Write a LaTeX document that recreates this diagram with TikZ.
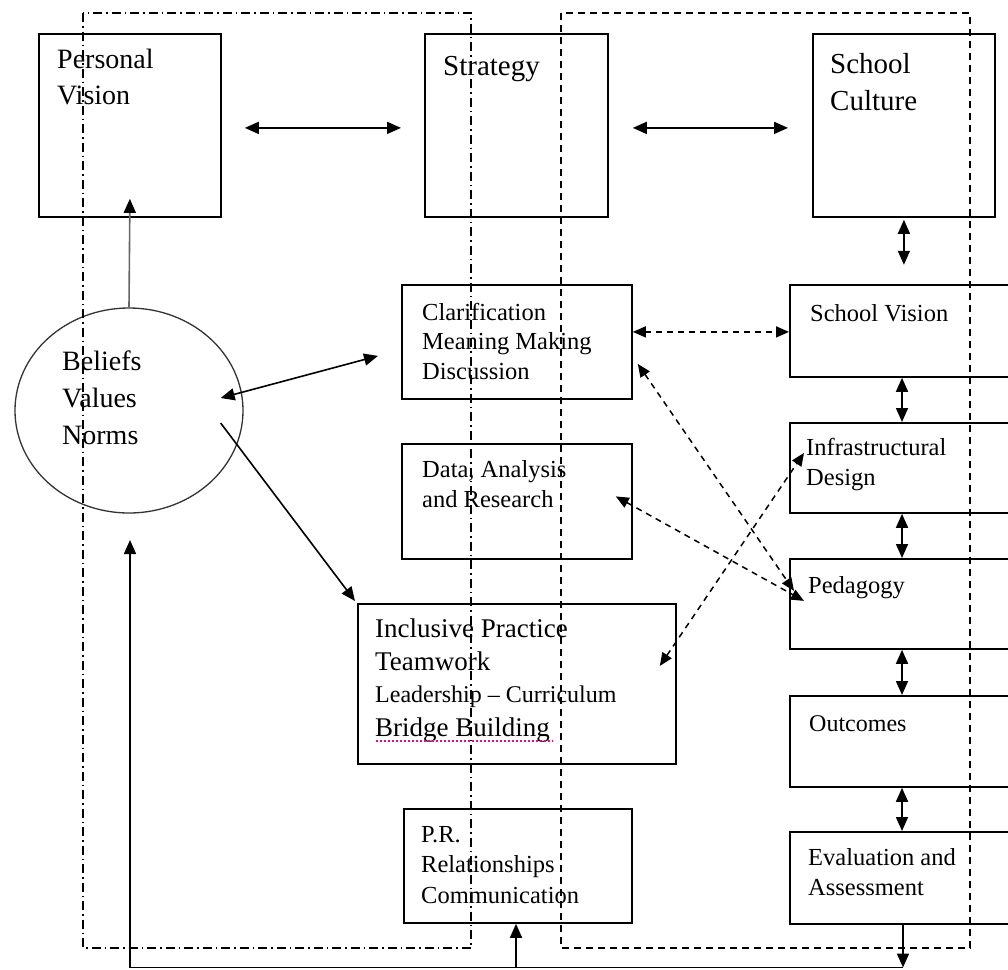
\documentclass[tikz,border=0pt]{standalone}
\usepackage{fontspec}
\setmainfont{Liberation Serif}
\usetikzlibrary{arrows.meta,shapes.geometric}

\tikzset{
  box/.style={draw, line width=1.8pt, rectangle, inner sep=0pt, anchor=north west},
  lbl/.style={anchor=base west, align=left, inner sep=0pt},
  arr/.style={line width=1.6pt, -{Triangle[length=14pt,width=12pt]}},
  biarr/.style={line width=1.6pt, {Triangle[length=14pt,width=12pt]}-{Triangle[length=14pt,width=12pt]}},
  dbiarr/.style={line width=1.5pt, dash pattern=on 6pt off 5pt,
    {Triangle[length=13pt,width=11pt]}-{Triangle[length=13pt,width=11pt]}},
  groupA/.style={line width=1.4pt, dash pattern=on 9pt off 4pt on 1.5pt off 4pt},
  groupB/.style={line width=1.6pt, dash pattern=on 7pt off 5pt},
  big/.style={font=\fontsize{28}{36.5}\selectfont},
  small/.style={font=\fontsize{24.5}{29.5}\selectfont},
  smallw/.style={font=\fontsize{24.5}{30}\selectfont},
}

\begin{document}
\begin{tikzpicture}[x=1pt,y=-1pt]
\clip (0,0) rectangle (1008,969);
\fill[white] (0,0) rectangle (1008,969);

% top row (label anchors sit on the baseline of the last line)
\node[box, minimum width=182pt, minimum height=183pt] (pv) at (38,33) {};
\node[box, minimum width=183pt, minimum height=183pt] (st) at (424,33) {};
\node[box, minimum width=182pt, minimum height=183pt] (sc) at (812,33) {};
\node[lbl, big] at (57,104.5) {Personal\\Vision};
\node[lbl, font=\fontsize{29}{36}\selectfont] at (443,75) {Strategy};
\node[lbl, font=\fontsize{29}{37}\selectfont] at (830,110) {School\\Culture};

% beliefs
\node[draw=black!80, line width=1.3pt, ellipse, minimum width=228pt, minimum height=205pt, inner sep=0pt] (bel) at (129,410.5) {};
\node[lbl, font=\fontsize{28}{37}\selectfont] at (62,444) {Beliefs\\Values\\Norms};

% strategy column
\node[box, minimum width=230pt, minimum height=114pt] (cl) at (401,284) {};
\node[lbl, small] at (422,379) {Clarification\\Meaning Making\\Discussion};
\node[box, minimum width=230pt, minimum height=115pt] (da) at (401,443) {};
\node[lbl, smallw] at (422,507) {Data, Analysis\\and Research};
\node[box, minimum width=318pt, minimum height=160pt] (incl) at (357,603) {};
\node[lbl, font=\fontsize{27}{33}\selectfont] at (375,637) {Inclusive Practice};
\node[lbl, font=\fontsize{27}{33}\selectfont] at (375,670) {Teamwork};
\node[lbl, font=\fontsize{24}{32}\selectfont] at (375,702) {Leadership -- Curriculum};
\node[lbl, font=\fontsize{27}{33}\selectfont] at (375,736) {Bridge Building};
\draw[magenta!80!purple, line width=1.2pt, dash pattern=on 1.5pt off 2.5pt] (376,741) -- (553,741);
\node[box, minimum width=228pt, minimum height=114pt] (pr) at (403,808) {};
\node[lbl, font=\fontsize{24.5}{30.5}\selectfont] at (421,903) {P.R.\\Relationships\\Communication};

% school culture column
\node[box, minimum width=226pt, minimum height=92pt] (sv) at (789,284) {};
\node[lbl, small] at (810,321) {School Vision};
\node[box, minimum width=226pt, minimum height=90pt] (inf) at (789,422) {};
\node[lbl, smallw] at (806,485) {Infrastructural\\Design};
\node[box, minimum width=226pt, minimum height=90pt] (ped) at (789,558) {};
\node[lbl, small] at (808,593) {Pedagogy};
\node[box, minimum width=226pt, minimum height=91pt] (out) at (789,695) {};
\node[lbl, font=\fontsize{24}{30}\selectfont] at (809,731) {Outcomes};
\node[box, minimum width=226pt, minimum height=92pt] (ev) at (789,831) {};
\node[lbl, smallw] at (808,895) {Evaluation and\\Assessment};

% grouping frames
\draw[groupA] (83,13) rectangle (471,948);
\draw[groupB] (561,13) rectangle (970,948);

% solid connectors
\draw[biarr] ([shift={(23,2.5)}]pv.east) -- ([shift={(-23,2.5)}]st.west);
\draw[biarr] ([shift={(24,2.5)}]st.east) -- ([shift={(-24,2.5)}]sc.west);
\draw[biarr] ([shift={(0,2)}]sc.south) -- ([shift={(0,47)}]sc.south);
\draw[biarr] ([xshift=113pt]sv.south west) -- ([xshift=113pt]inf.north west);
\draw[biarr] ([xshift=113pt]inf.south west) -- ([xshift=113pt]ped.north west);
\draw[biarr] ([xshift=113pt]ped.south west) -- ([xshift=113pt]out.north west);
\draw[biarr] ([xshift=113pt]out.south west) -- ([xshift=113pt]ev.north west);
\draw[line width=1.6pt, black!60, -{Triangle[length=14pt,width=12pt,color=black,fill=black]}] (bel.north) -- ([yshift=19pt]pv.south);
\draw[biarr] ([shift={(-23,-12.5)}]bel.east) -- ([shift={(-23,14)}]cl.west);
\draw[arr] ([shift={(-23,12.5)}]bel.east) -- ([shift={(-2,-2)}]incl.north west);

% feedback loop along the bottom
\coordinate (br) at (903,967.5);
\coordinate (bm) at (516,967.5);
\coordinate (bl) at (130,967.5);
\coordinate (bt) at (130,540);
\draw[arr] ([xshift=114pt]ev.south west) -- (br);
\draw[line width=1.6pt] (br) -- (bl);
\draw[arr] (bl) -- (bt);
\draw[arr] (bm) -- (pr.south -| bm);

% dashed connectors
\draw[dbiarr] ([yshift=10pt]cl.east) -- ([yshift=-1pt]sv.west);
\draw[dbiarr] ([shift={(5,22)}]cl.east) -- ([shift={(5,-13)}]ped.west);
\draw[dbiarr] ([shift={(-17,-5)}]da.east) -- ([shift={(15,-3)}]ped.west);
\draw[dbiarr] ([shift={(-17,-18)}]incl.east) -- ([shift={(15,-15)}]inf.west);
\end{tikzpicture}
\end{document}
